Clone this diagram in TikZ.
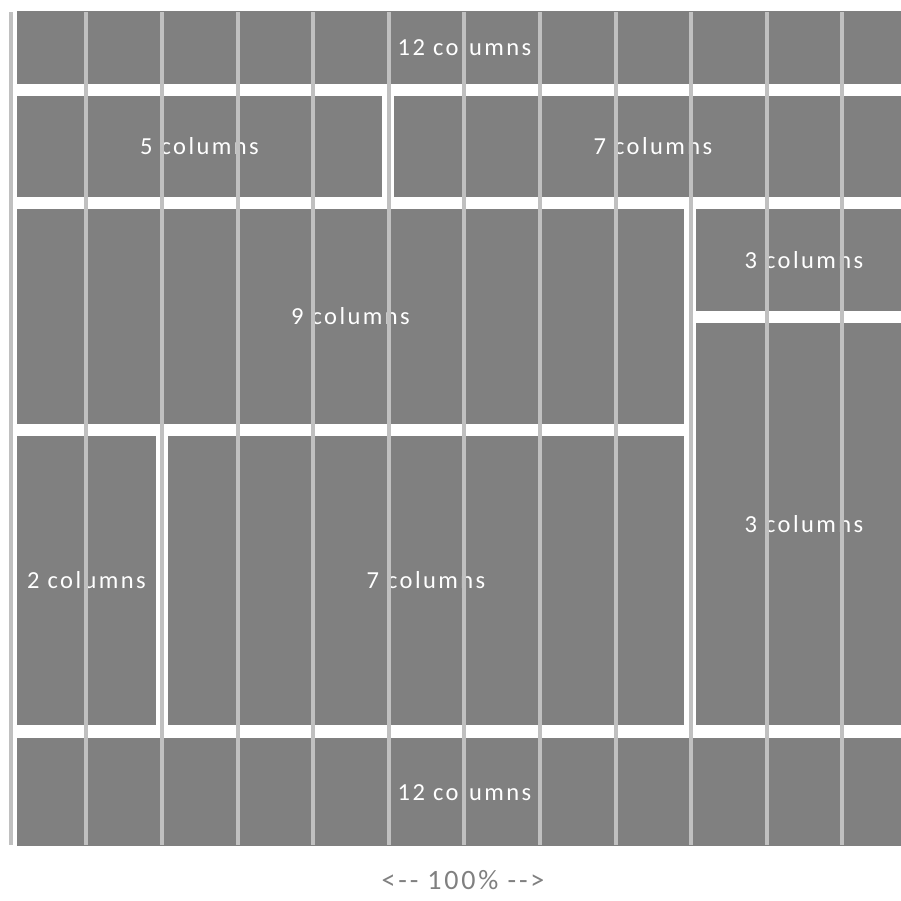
\documentclass[tikz,border=0pt]{standalone}
\usepackage{fontspec}
\newfontfamily\lblfont[LetterSpace=10]{Carlito}
\definecolor{blkgray}{HTML}{808080}
\definecolor{linegray}{HTML}{C0C0C0}
\tikzset{
  blk/.style={fill=blkgray, draw=none, inner sep=0pt, text=white,
    font=\lblfont\fontsize{24.5}{28}\selectfont},
  gridln/.style={draw=linegray, line width=4pt},
  caption/.style={text=blkgray, inner sep=0pt, font=\lblfont\fontsize{28}{30}\selectfont}
}
\newcommand{\blockat}[6]{%
  \node[blk, minimum width={(#4-#2)*1pt}, minimum height={(#5-#3)*1pt}]
    (#1) at ({(#2+#4)/2},{(#3+#5)/2}) {#6};}
\begin{document}
\begin{tikzpicture}[x=1pt,y=-1pt]
\useasboundingbox (0,0) rectangle (901,900);
\clip (0,0) rectangle (901,900);
\blockat{topA}{17}{11}{912}{84}{12 columns}
\blockat{fiveA}{17}{96}{382}{197}{5 columns}
\blockat{sevenA}{394}{96}{912}{197}{7 columns}
\blockat{nineA}{17}{209}{684}{424}{9 columns}
\blockat{threeA}{696}{209}{912}{311}{3 columns}
\blockat{threeB}{696}{323}{912}{725}{3 columns}
\blockat{twoA}{17}{436}{156}{725}{2 columns}
\blockat{sevenB}{168}{436}{684}{725}{7 columns}
\blockat{botA}{17}{738}{912}{846}{12 columns}
\foreach \k in {0,...,11}
  \draw[gridln] ({10.8+75.6*\k},12) -- ({10.8+75.6*\k},845);
\node[caption, anchor=base] (cap) at (463,889) {<-{}- 100\% -{}->};
\end{tikzpicture}
\end{document}
